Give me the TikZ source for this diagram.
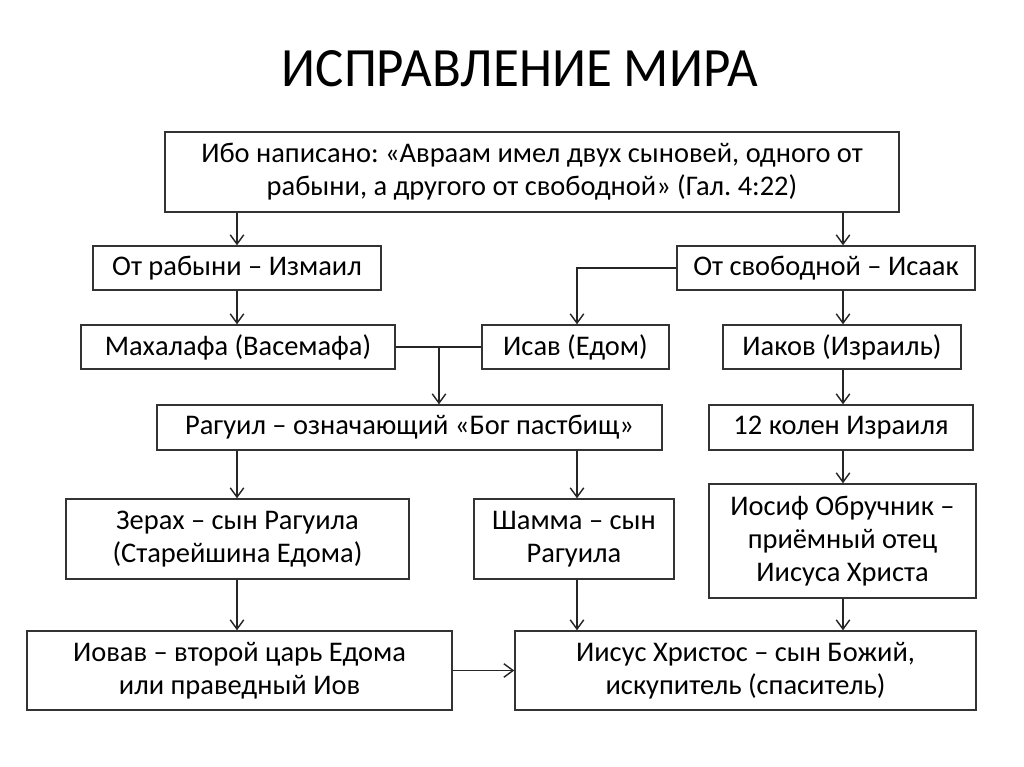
\documentclass[tikz,border=0pt]{standalone}
\usepackage{fontspec}
\setmainfont{Carlito}
\usetikzlibrary{arrows.meta}
\frenchspacing
\begin{document}
\begin{tikzpicture}[x=0.703125pt,y=-0.703125pt,
  box/.style={draw=black!80,line width=1pt,inner sep=0pt,align=center,
    font=\fontsize{20}{23.4}\selectfont},
  arr/.style={draw=black!85,line width=1pt,-{Straight Barb[length=6.5pt,width=9.5pt,line width=1pt]}},
  ln/.style={draw=black!85,line width=1pt}]
\useasboundingbox (0,0) rectangle (1024,767);
\node[font=\fontsize{39}{46}\selectfont,xscale=0.955] (title) at (520,69) {ИСПРАВЛЕНИЕ МИРА};
\node[box,minimum width=734*0.703125pt,minimum height=80*0.703125pt] (top) at (532,172)
  {Ибо написано: «Авраам имел двух сыновей, одного от\\рабыни, а другого от свободной» (Гал. 4:22)};
\node[box,minimum width=288*0.703125pt,minimum height=44*0.703125pt] (ism) at (237,268) {От рабыни – Измаил};
\node[box,minimum width=298*0.703125pt,minimum height=44*0.703125pt] (isa) at (826,268) {От свободной – Исаак};
\node[box,minimum width=314*0.703125pt,minimum height=44*0.703125pt] (mah) at (238,347) {Махалафа (Васемафа)};
\node[box,minimum width=187*0.703125pt,minimum height=44*0.703125pt] (isav) at (575.5,347) {Исав (Едом)};
\node[box,minimum width=238*0.703125pt,minimum height=44*0.703125pt] (iak) at (842,347) {Иаков (Израиль)};
\node[box,minimum width=505*0.703125pt,minimum height=45*0.703125pt] (rag) at (409.5,427.5) {Рагуил – означающий «Бог пастбищ»};
\node[box,minimum width=264*0.703125pt,minimum height=45*0.703125pt] (k12) at (841,427.5) {12 колен Израиля};
\node[box,minimum width=343*0.703125pt,minimum height=80*0.703125pt] (zer) at (237.5,539) {Зерах – сын Рагуила\\(Старейшина Едома)};
\node[box,minimum width=200*0.703125pt,minimum height=80*0.703125pt] (sham) at (574,539) {Шамма – сын\\Рагуила};
\node[box,minimum width=267*0.703125pt,minimum height=114*0.703125pt] (ios) at (842.5,541) {Иосиф Обручник –\\приёмный отец\\Иисуса Христа};
\node[box,minimum width=425*0.703125pt,minimum height=79*0.703125pt] (iov) at (239.5,670.5) {Иовав – второй царь Едома\\или праведный Иов};
\node[box,minimum width=461*0.703125pt,minimum height=79*0.703125pt] (iis) at (745.5,670.5) {Иисус Христос – сын Божий,\\искупитель (спаситель)};
\coordinate (xl) at (237,0);
\coordinate (xr) at (843,0);
\coordinate (xm) at (577,0);
\coordinate (j) at (439,347);
\draw[arr] (top.south -| xl) -- (ism.north -| xl);
\draw[arr] (top.south -| xr) -- (isa.north -| xr);
\draw[arr] (ism.south -| xl) -- (mah.north -| xl);
\draw[arr] (isa.west) -| (isav.north -| xm);
\draw[arr] (isa.south -| xr) -- (iak.north -| xr);
\draw[ln] (mah.east) -- (isav.west);
\draw[arr] (j) -- (j |- rag.north);
\draw[arr] (iak.south -| xr) -- (k12.north -| xr);
\draw[arr] (k12.south -| xr) -- (ios.north -| xr);
\draw[arr] (rag.south -| xl) -- (zer.north -| xl);
\draw[arr] (rag.south -| xm) -- (sham.north -| xm);
\draw[arr] (zer.south -| xl) -- (iov.north -| xl);
\draw[arr] (sham.south -| xm) -- (iis.north -| xm);
\draw[arr] (ios.south -| xr) -- (iis.north -| xr);
\draw[arr] (iov.east) -- (iis.west);
\end{tikzpicture}
\end{document}
